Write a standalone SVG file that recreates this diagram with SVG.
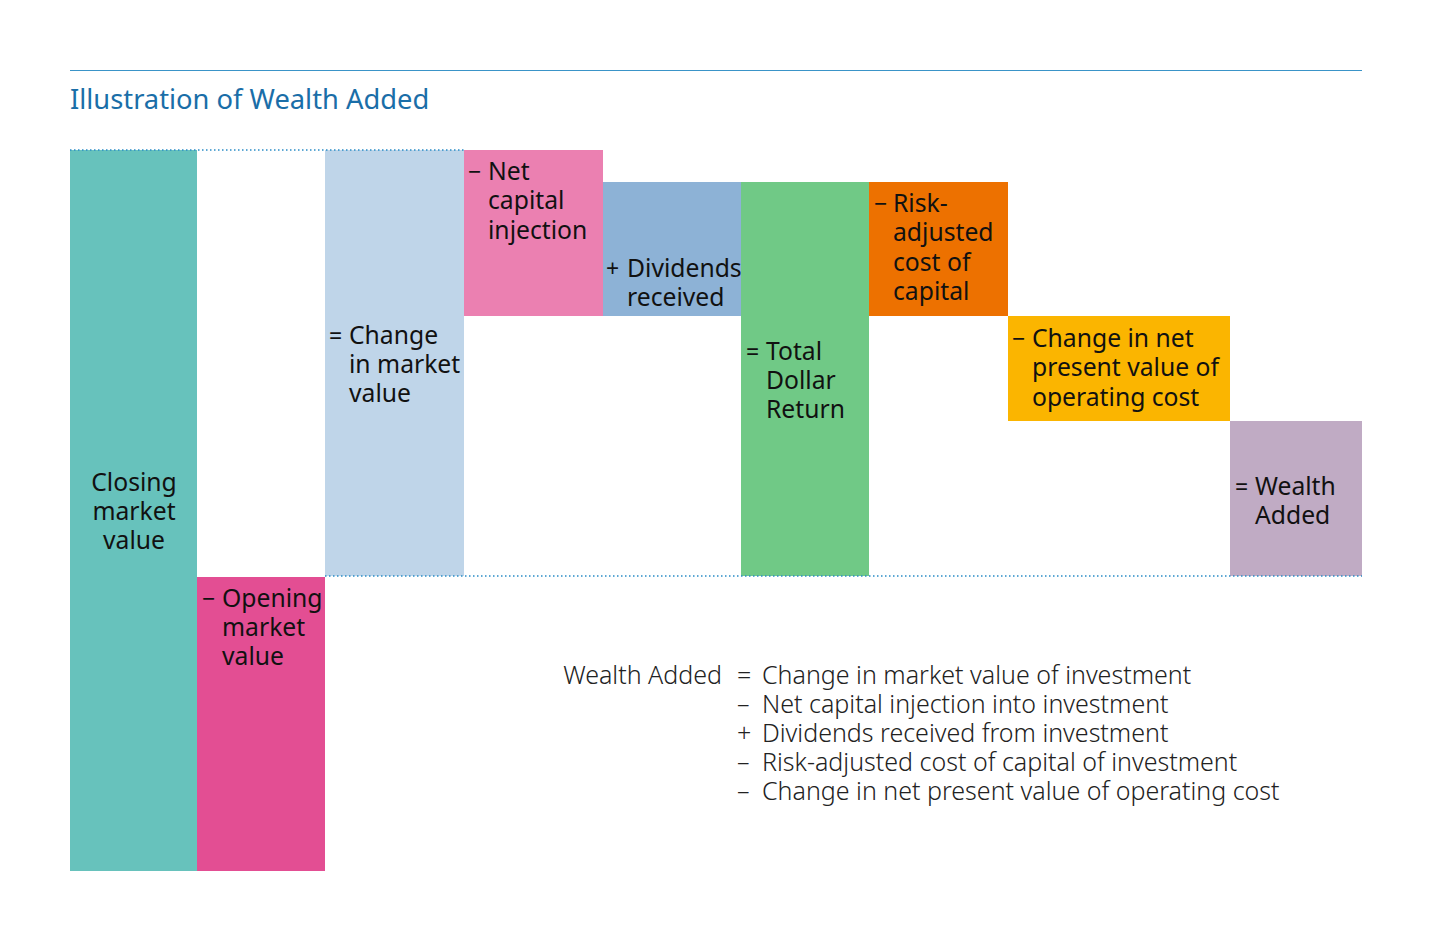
<svg xmlns="http://www.w3.org/2000/svg" width="1431" height="944" viewBox="0 0 1431 944">
  <style>
    .lbl { font-family: "Noto Sans", "Open Sans", sans-serif; font-size: 24.7px; fill: #111; }
    .sign { font-family: "Noto Sans", "Open Sans", sans-serif; font-size: 23px; fill: #111; }
    .formula { font-family: "Noto Sans", "Open Sans", sans-serif; font-size: 25px; font-weight: 300; fill: #222; }
    .title { font-family: "Noto Sans", "Open Sans", sans-serif; font-size: 27.3px; fill: #1a6ea8; }
    .guide { stroke: #2a8cc6; stroke-width: 1.5; stroke-dasharray: 1.5 2.5; fill: none; }
  </style>

  <rect width="1431" height="944" fill="#ffffff"/>

  <!-- header -->
  <line x1="70" y1="70.5" x2="1362" y2="70.5" stroke="#3a94c8" stroke-width="1.2"/>
  <text class="title" x="70" y="109">Illustration of Wealth Added</text>

  <!-- bars -->
  <g id="closing">
    <rect x="70" y="150" width="127" height="721" fill="#67c2bc"/>
    <text class="lbl" text-anchor="middle"><tspan x="134" y="491">Closing</tspan><tspan x="134" y="520">market</tspan><tspan x="134" y="549">value</tspan></text>
  </g>
  <g id="opening">
    <rect x="197" y="577" width="128" height="294" fill="#e34e93"/>
    <text class="sign" x="202" y="607">−</text>
    <text class="lbl"><tspan x="222" y="607">Opening</tspan><tspan x="222" y="636">market</tspan><tspan x="222" y="665">value</tspan></text>
  </g>
  <g id="change-market">
    <rect x="325" y="150" width="139" height="426" fill="#bfd5e9"/>
    <text class="sign" x="329" y="344">=</text>
    <text class="lbl"><tspan x="349" y="344">Change</tspan><tspan x="349" y="373">in market</tspan><tspan x="349" y="402">value</tspan></text>
  </g>
  <g id="net-capital">
    <rect x="464" y="150" width="139" height="166" fill="#eb80b1"/>
    <text class="sign" x="468" y="180">−</text>
    <text class="lbl"><tspan x="488" y="180">Net</tspan><tspan x="488" y="209">capital</tspan><tspan x="488" y="239">injection</tspan></text>
  </g>
  <g id="dividends">
    <rect x="603" y="182" width="138" height="134" fill="#8db2d6"/>
    <text class="sign" x="606" y="277">+</text>
    <text class="lbl"><tspan x="627" y="277">Dividends</tspan><tspan x="627" y="306">received</tspan></text>
  </g>
  <g id="total-return">
    <rect x="741" y="182" width="128" height="394" fill="#70c986"/>
    <text class="sign" x="746" y="360">=</text>
    <text class="lbl"><tspan x="766" y="360">Total</tspan><tspan x="766" y="389">Dollar</tspan><tspan x="766" y="418">Return</tspan></text>
  </g>
  <g id="cost-of-capital">
    <rect x="869" y="182" width="139" height="134" fill="#ed7100"/>
    <text class="sign" x="874" y="212">−</text>
    <text class="lbl"><tspan x="893" y="212">Risk-</tspan><tspan x="893" y="241">adjusted</tspan><tspan x="893" y="271">cost of</tspan><tspan x="893" y="300">capital</tspan></text>
  </g>
  <g id="operating-cost">
    <rect x="1008" y="316" width="222" height="105" fill="#fbb500"/>
    <text class="sign" x="1012" y="347">−</text>
    <text class="lbl"><tspan x="1032" y="347">Change in net</tspan><tspan x="1032" y="376">present value of</tspan><tspan x="1032" y="406">operating cost</tspan></text>
  </g>
  <g id="wealth-added">
    <rect x="1230" y="421" width="132" height="155" fill="#c0abc4"/>
    <text class="sign" x="1235" y="495">=</text>
    <text class="lbl"><tspan x="1255" y="495">Wealth</tspan><tspan x="1255" y="524">Added</tspan></text>
  </g>

  <!-- dotted reference levels -->
  <g id="guides">
    <line class="guide" x1="70" y1="150" x2="464" y2="150"/>
    <line class="guide" x1="325" y1="576" x2="1362" y2="576"/>
  </g>

  <!-- formula -->
  <g id="formula">
    <text class="formula" x="722" y="684" text-anchor="end">Wealth Added</text>
    <text class="formula" x="737" y="684">=</text>
    <text class="formula" x="737" y="713">–</text>
    <text class="formula" x="737" y="742">+</text>
    <text class="formula" x="737" y="771">–</text>
    <text class="formula" x="737" y="800">–</text>
    <text class="formula"><tspan x="762" y="684">Change in market value of investment</tspan><tspan x="762" y="713">Net capital injection into investment</tspan><tspan x="762" y="742">Dividends received from investment</tspan><tspan x="762" y="771">Risk-adjusted cost of capital of investment</tspan><tspan x="762" y="800">Change in net present value of operating cost</tspan></text>
  </g>
</svg>
